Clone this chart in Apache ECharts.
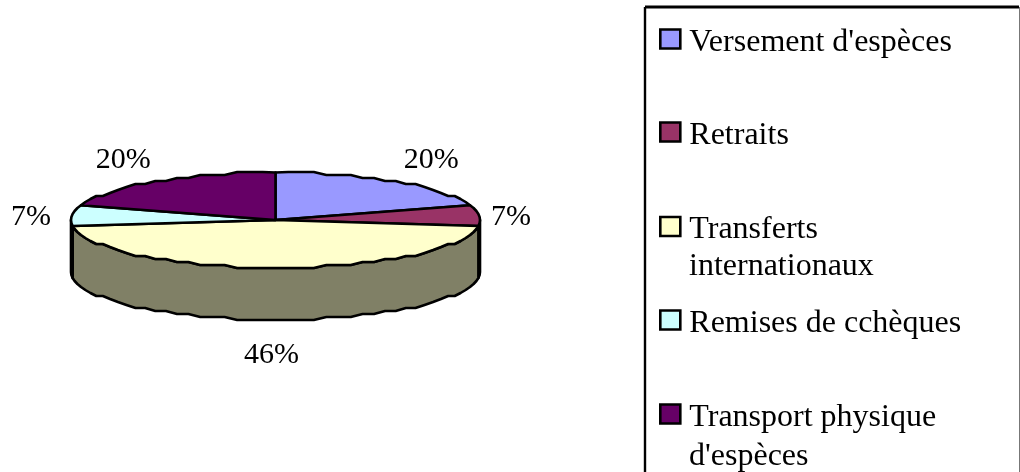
<!DOCTYPE html>
<html><head><meta charset="utf-8">
<style>html,body{margin:0;padding:0;background:#fff}#c{width:1020px;height:472px}</style>
<script src="https://cdn.jsdelivr.net/npm/echarts@6/dist/echarts.min.js"></script>
</head><body><div id="c"></div>
<script>
const categories = ["Versement d'espèces", "Retraits", "Transferts internationaux", "Remises de cchèques", "Transport physique d'espèces"];
const values = [20, 7, 46, 7, 20];
const topColors = ['#9999FF', '#993366', '#FFFFCC', '#CCFFFF', '#660066'];
const sideColors = ['#4D4D80', '#4D1A33', '#808066', '#668080', '#330033'];
const legendFirstLines = ["Versement d'espèces", 'Retraits', 'Transferts', 'Remises de cchèques', 'Transport physique'];
const legendSecondLines = ['', '', 'internationaux', '', "d'espèces"];
const legendTops = [26.5, 119.5, 214, 307.5, 401.5];
const secondLineTops = [0, 0, 251, 0, 441];
const labelAnchors = [[0.762, 1.26], [1.152, 0.06], [-0.02, -2.85], [-1.196, 0.06], [-0.745, 1.26]];

const total = values.reduce((a, b) => a + b, 0);
const depth = 52 / 47.5;
const TAU = Math.PI * 2;
let acc = 0;
const spans = values.map(v => { const s = acc; acc += v; return [s / total * TAU, acc / total * TAU]; });
const rim = t => [Math.sin(t), Math.cos(t)];
const STEP = TAU / 100, SNAP = 3;

function arcPts(api, a, b, dy) {
  const ts = [a];
  for (let k = Math.floor(a / STEP) + 1; k * STEP < b - 1e-6; k++) ts.push(k * STEP);
  ts.push(b);
  const cy = api.coord([0, -dy])[1];
  return ts.map((t, i) => {
    const r = rim(t);
    const p = api.coord([r[0], r[1] - dy]);
    if (i === 0 || i === ts.length - 1) return p;
    return [p[0], cy + Math.round((p[1] - cy) / SNAP) * SNAP];
  });
}
function sliceItem(idx) {
  return function (params, api) {
    const [a, b] = spans[idx];
    const children = [];
    const fa = Math.max(a, Math.PI / 2), fb = Math.min(b, Math.PI * 1.5);
    if (fb > fa) {
      const up = arcPts(api, fa, fb, 0), dn = arcPts(api, fa, fb, depth).reverse();
      children.push({ type: 'polygon', shape: { points: up.concat(dn) },
        style: { fill: sideColors[idx], stroke: '#000', lineWidth: 2.6, lineJoin: 'round' } });
    }
    const pts = [api.coord([0, 0])].concat(arcPts(api, a, b, 0));
    children.push({ type: 'polygon', shape: { points: pts },
      style: { fill: topColors[idx], stroke: '#000', lineWidth: 2.6, lineJoin: 'round' } });
    const p = api.coord(labelAnchors[idx]);
    children.push({ type: 'text', x: p[0], y: p[1], style: {
      text: Math.round(values[idx] / total * 100) + '%', fill: '#000',
      font: '30px "Liberation Serif"', align: 'center', verticalAlign: 'middle' } });
    return { type: 'group', children };
  };
}
const FONT = 'Liberation Serif';
const chart = echarts.init(document.getElementById('c'), null, { renderer: 'canvas' });
chart.setOption({
  animation: false,
  backgroundColor: '#fff',
  grid: { left: 71, width: 409, top: 172.5, height: 95 },
  xAxis: { type: 'value', min: -1, max: 1, show: false },
  yAxis: { type: 'value', min: -1, max: 1, show: false },
  legend: categories.map((c, i) => ({
    data: [{ name: c }], left: 659, top: legendTops[i], padding: 0, orient: 'vertical',
    icon: 'rect', itemWidth: 20, itemHeight: 19, selectedMode: false,
    itemStyle: { borderColor: '#000', borderWidth: 2.6 },
    formatter: () => '{t|' + legendFirstLines[i] + '}',
    textStyle: { fontFamily: FONT, fontSize: 32, color: '#000', padding: [0, 0, 0, 4],
      rich: { t: { fontFamily: FONT, fontSize: 32, color: '#000', lineHeight: 39, verticalAlign: 'bottom' } } }
  })),
  graphic: [
    { type: 'line', z: -1, shape: { x1: 645, y1: 7, x2: 1019, y2: 7 }, style: { stroke: '#000', lineWidth: 3 } },
    { type: 'line', z: -1, shape: { x1: 645, y1: 7, x2: 645, y2: 472 }, style: { stroke: '#000', lineWidth: 2.4 } },
    { type: 'line', z: -1, shape: { x1: 1019.5, y1: 7, x2: 1019.5, y2: 472 }, style: { stroke: '#777', lineWidth: 1 } }
  ].concat(legendSecondLines.map((t, i) => t ? ({
    type: 'text', left: 689, top: secondLineTops[i],
    style: { text: t, font: '32px "Liberation Serif"', fill: '#000' } }) : null).filter(Boolean)),
  series: categories.map((c, i) => ({
    type: 'custom', name: c, coordinateSystem: 'cartesian2d', clip: false,
    itemStyle: { color: topColors[i] }, silent: true,
    data: [[0, 0, values[i]]], renderItem: sliceItem(i)
  }))
});
</script></body></html>
